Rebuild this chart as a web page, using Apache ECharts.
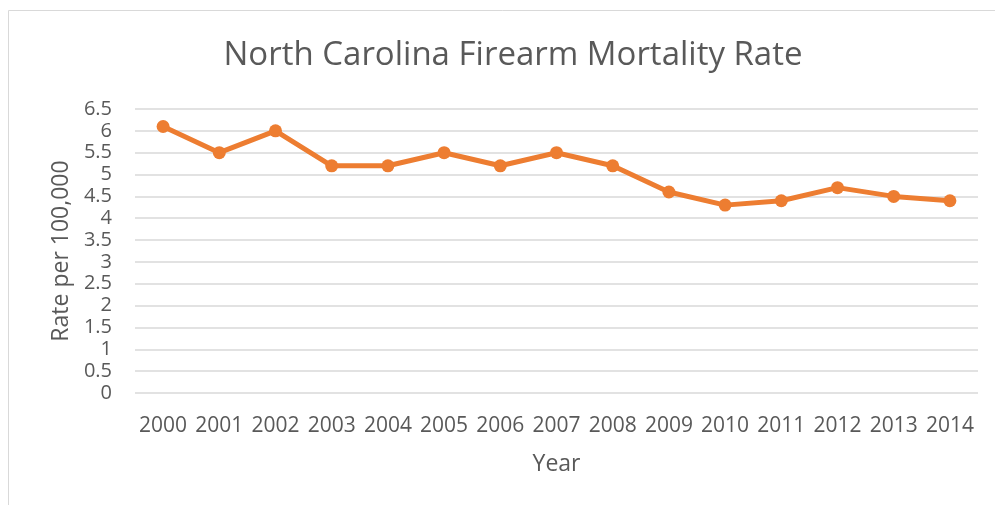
<!DOCTYPE html>
<html>
<head>
<meta charset="utf-8">
<script src="https://cdn.jsdelivr.net/npm/echarts@6/dist/echarts.min.js"></script>
<style>
  html, body { margin: 0; padding: 0; background: #fff; }
  #main { width: 995px; height: 505px; }
</style>
</head>
<body>
<div id="main"></div>
<script>
// chart data
const years = ['2000', '2001', '2002', '2003', '2004', '2005', '2006', '2007',
  '2008', '2009', '2010', '2011', '2012', '2013', '2014']
const rates = [6.1, 5.5, 6.0, 5.2, 5.2, 5.5, 5.2, 5.5, 5.2, 4.6, 4.3, 4.4, 4.7, 4.5, 4.4]

const chartDom = document.getElementById('main')
const myChart = echarts.init(chartDom)
const textColor = '#595959'
const font = 'Open Sans'

const option = {
  animation: false,
  title: {
    text: 'North Carolina Firearm Mortality Rate',
    left: 508,
    top: 34,
    textAlign: 'center',
    textStyle: {
      color: textColor,
      fontFamily: font,
      fontWeight: 'normal',
      fontSize: 33
    }
  },
  graphic: [{
    type: 'rect',
    shape: { x: 8.5, y: 10.5, width: 1100, height: 600 },
    style: { fill: 'none', stroke: '#d9d9d9', lineWidth: 1 },
    silent: true
  }],
  grid: {
    left: 135,
    right: 17,
    top: 109,
    bottom: 112
  },
  xAxis: {
    type: 'category',
    data: years,
    name: 'Year',
    nameLocation: 'middle',
    nameGap: 60,
    nameTextStyle: { color: textColor, fontFamily: font, fontSize: 23 },
    axisLine: { show: false },
    axisTick: { show: false },
    axisLabel: {
      color: textColor,
      fontFamily: font,
      fontSize: 21,
      margin: 23,
      interval: 0
    }
  },
  yAxis: {
    type: 'value',
    min: 0,
    max: 6.5,
    interval: 0.5,
    name: 'Rate per 100,000',
    nameLocation: 'middle',
    nameGap: 60,
    nameTextStyle: { color: textColor, fontFamily: font, fontSize: 23 },
    axisLine: { show: false },
    axisTick: { show: false },
    axisLabel: {
      color: textColor,
      fontFamily: font,
      fontSize: 20,
      margin: 23
    },
    splitLine: {
      lineStyle: { color: '#d9d9d9', width: 1.5 }
    }
  },
  series: [{
    name: 'Rate',
    type: 'line',
    data: rates,
    symbol: 'circle',
    symbolSize: 13,
    itemStyle: { color: '#ED7D31' },
    lineStyle: { color: '#ED7D31', width: 5 }
  }]
}
option && myChart.setOption(option)
</script>
</body>
</html>
